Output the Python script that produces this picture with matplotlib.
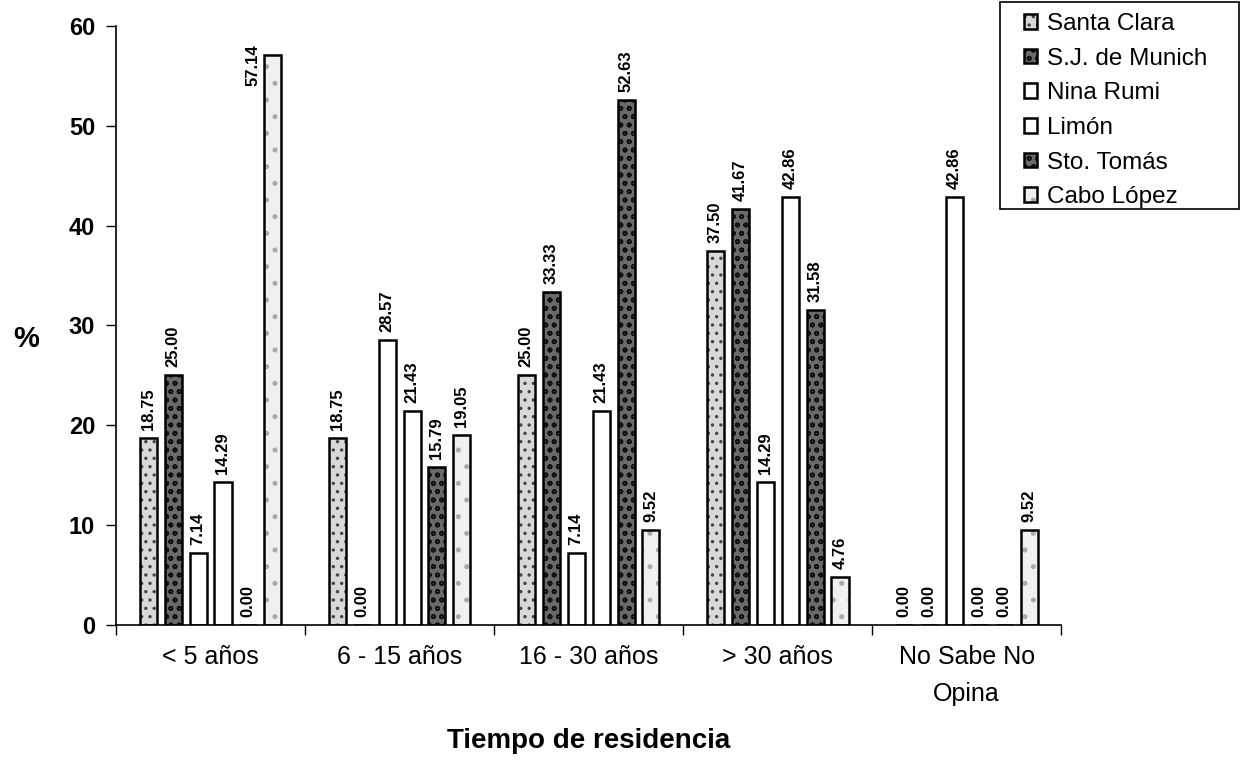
import numpy as np
import matplotlib
matplotlib.use('Agg')
import matplotlib.pyplot as plt
from matplotlib.patches import Rectangle

plt.rcParams['font.family'] = ['Liberation Sans', 'DejaVu Sans']
plt.rcParams['hatch.linewidth'] = 1.2

categories = ['< 5 años', '6 - 15 años', '16 - 30 años', '> 30 años', 'No Sabe No\nOpina']
series = ['Santa Clara', 'S.J. de Munich', 'Nina Rumi', 'Limón', 'Sto. Tomás', 'Cabo López']

santa_clara = [18.75, 18.75, 25.00, 37.50, 0.00]
sj_munich = [25.00, 0.00, 33.33, 41.67, 0.00]
nina_rumi = [7.14, 28.57, 7.14, 14.29, 42.86]
limon = [14.29, 21.43, 21.43, 42.86, 0.00]
sto_tomas = [0.00, 15.79, 52.63, 31.58, 0.00]
cabo_lopez = [57.14, 19.05, 9.52, 4.76, 9.52]

values = [santa_clara, sj_munich, nina_rumi, limon, sto_tomas, cabo_lopez]

# fill, hatch, hatch colour per series (imitating the printed patterns)
styles = [
    ('#d8d8d8', '..', '#444444'),
    ('#6a6a6a', 'oo', '#111111'),
    ('white', '', 'black'),
    ('white', '', 'black'),
    ('#6a6a6a', 'oo', '#111111'),
    ('#f0f0f0', '.', '#aaaaaa'),
]

fig = plt.figure(figsize=(12.42, 7.71), dpi=100)
ax = fig.add_axes([0.0934, 0.190, 0.7610, 0.7757])

x = np.arange(len(categories))
step = 0.132
width = 0.09
ymax = 60
for i, (name, vals) in enumerate(zip(series, values)):
    fc, hatch, hc = styles[i]
    pos = x + (i - 2.5) * step
    bars = ax.bar(pos, vals, width, facecolor=fc, edgecolor='black',
                  linewidth=1.8, hatch=hatch, label=name)
    for b in bars:
        b._hatch_color = matplotlib.colors.to_rgba(hc)
    for px, v in zip(pos, vals):
        if v > 55:
            # no room above: label sits beside the bar top
            ax.text(px - 0.8 * step, v - 1.0, f'{v:.2f}', rotation=90, ha='center',
                    va='center', fontsize=12, fontweight='bold')
        else:
            ax.text(px, v + 0.8, f'{v:.2f}', rotation=90, ha='center', va='bottom',
                    fontsize=12, fontweight='bold')

ax.set_xlim(-0.5, 4.5)
ax.set_ylim(0, ymax)
ax.set_yticks(range(0, 61, 10))
ax.tick_params(axis='y', labelsize=17, width=1, length=7, direction='out', pad=8)
for t in ax.get_yticklabels():
    t.set_fontweight('bold')

ax.set_xticks(np.arange(-0.5, 4.6, 1.0))
ax.set_xticklabels([])
ax.tick_params(axis='x', which='major', length=7, width=1, direction='out')
ax.set_xticks(x, minor=True)
ax.set_xticklabels(categories, minor=True, fontsize=18, linespacing=1.65)
ax.tick_params(axis='x', which='minor', length=0, pad=15)

ax.spines['top'].set_visible(False)
ax.spines['right'].set_visible(False)
ax.spines['left'].set_linewidth(1.2)
ax.spines['bottom'].set_linewidth(1.2)

ax.set_xlabel('Tiempo de residencia', fontsize=20, fontweight='bold', labelpad=16)
fig.text(0.021, 0.56, '%', fontsize=21, fontweight='bold', ha='center', va='center')

# legend box drawn separately so the left margin can be wider than the others
fig.patches.append(Rectangle((1000 / 1242, 1 - 209 / 771), 239 / 1242, 207 / 771,
                             transform=fig.transFigure, fill=False,
                             edgecolor='black', linewidth=1.2))
leg = fig.legend(loc='upper left', bbox_to_anchor=(1024 / 1242, 1 - 13 / 771),
                 fontsize=17.5, frameon=False,
                 handlelength=0.55, handleheight=0.55, handletextpad=0.4,
                 labelspacing=0.52, borderpad=0.0, borderaxespad=0.0)

fig.savefig('out.png', dpi=100)
